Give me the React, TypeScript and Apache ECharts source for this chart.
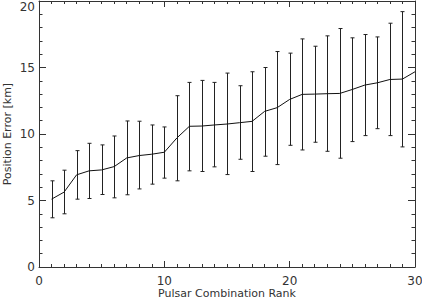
import React, { useEffect, useRef } from "react";
import * as echarts from "echarts";

const ranks = [1, 2, 3, 4, 5, 6, 7, 8, 9, 10, 11, 12, 13, 14, 15, 16, 17, 18, 19, 20, 21, 22, 23, 24, 25, 26, 27, 28, 29, 30];
const meanErr = [5.1, 5.63, 6.93, 7.23, 7.3, 7.55, 8.2, 8.38, 8.48, 8.63, 9.7, 10.58, 10.6, 10.68, 10.75, 10.85, 10.95, 11.7, 11.98, 12.6, 12.98, 13.0, 13.03, 13.05, 13.35, 13.68, 13.85, 14.1, 14.13, 14.68];
const upperErr = [6.48, 7.28, 8.75, 9.3, 9.18, 9.85, 10.98, 10.96, 10.68, 10.53, 12.88, 13.88, 14.03, 13.88, 14.58, 13.63, 14.68, 15.0, 16.2, 16.08, 17.15, 16.6, 17.38, 17.93, 17.23, 17.48, 17.3, 18.33, 19.2, null];
const lowerErr = [3.7, 4.0, 5.1, 5.15, 5.45, 5.2, 5.43, 5.87, 6.23, 6.68, 6.48, 7.23, 7.18, 7.53, 6.95, 8.1, 7.18, 8.33, 7.7, 9.15, 8.8, 9.38, 8.7, 8.18, 9.43, 9.88, 10.4, 9.88, 9.03, null];

const xTicks = [0, 10, 20, 30];
const yTicks = [0, 5, 10, 15, 20];

const FONT = "DejaVu Sans";
const AX = "#333";

export default function App() {
  const ref = useRef<HTMLDivElement>(null);
  useEffect(() => {
    document.body.style.margin = "0";
    const chart = echarts.init(ref.current!, null, { renderer: "svg" });
    const lineData = ranks.map((r, i) => [r, meanErr[i]]);
    const errData = ranks
      .map((r, i) => [r, lowerErr[i], upperErr[i]])
      .filter((d) => d[1] != null && d[2] != null);
    const yMax = yTicks[yTicks.length - 1];

    const baseAxis = {
      axisLine: { show: true, onZero: false, lineStyle: { color: AX, width: 1 } },
      splitLine: { show: false },
    };

    chart.setOption({
      animation: false,
      grid: { left: 39, right: 7, top: 1, bottom: 33, containLabel: false, outerBoundsMode: "none" },
      xAxis: [
        {
          ...baseAxis,
          type: "value",
          min: xTicks[0],
          max: xTicks[xTicks.length - 1],
          interval: 10,
          position: "bottom",
          name: "Pulsar Combination Rank",
          nameLocation: "middle",
          nameGap: 21,
          nameMoveOverlap: false,
          nameTextStyle: { fontFamily: FONT, fontSize: 11, lineHeight: 11, color: AX },
          axisTick: { show: true, inside: true, length: 6, lineStyle: { color: AX } },
          minorTick: { show: true, splitNumber: 10, length: 3, lineStyle: { color: AX } },
          axisLabel: { fontFamily: FONT, fontSize: 12, lineHeight: 12, color: AX, margin: 8 },
        },
        {
          ...baseAxis,
          type: "value",
          min: xTicks[0],
          max: xTicks[xTicks.length - 1],
          interval: 10,
          position: "top",
          axisTick: { show: true, inside: true, length: 6, lineStyle: { color: AX } },
          minorTick: { show: true, splitNumber: 10, length: 3, lineStyle: { color: AX } },
          axisLabel: { show: false },
        },
      ],
      yAxis: [
        {
          ...baseAxis,
          type: "value",
          min: yTicks[0],
          max: yMax,
          interval: 5,
          position: "left",
          name: "Position Error [km]",
          nameLocation: "middle",
          nameGap: 26,
          nameMoveOverlap: false,
          nameTextStyle: { fontFamily: FONT, fontSize: 11, color: AX },
          axisTick: { show: true, inside: true, length: 7, lineStyle: { color: AX } },
          minorTick: { show: true, splitNumber: 5, length: 3.5, lineStyle: { color: AX } },
          axisLabel: {
            fontFamily: FONT,
            fontSize: 12,
            color: AX,
            margin: 4,
            formatter: (v: number) => (v === yMax ? "{t|" + v + "}" : String(v)),
            rich: { t: { fontFamily: FONT, fontSize: 12, color: AX, padding: [11, 0, 0, 0] } },
          },
        },
        {
          ...baseAxis,
          type: "value",
          min: yTicks[0],
          max: yMax,
          interval: 5,
          position: "right",
          axisTick: { show: true, inside: true, length: 7, lineStyle: { color: AX } },
          minorTick: { show: true, splitNumber: 5, length: 3.5, lineStyle: { color: AX } },
          axisLabel: { show: false },
        },
      ],
      series: [
        {
          type: "custom",
          xAxisIndex: 0,
          yAxisIndex: 0,
          data: errData,
          renderItem: (params: any, api: any) => {
            const x = api.value(0);
            const lo = api.coord([x, api.value(1)]);
            const hi = api.coord([x, api.value(2)]);
            const cx = Math.round(lo[0]) + 0.5;
            const w = 2;
            const st = { stroke: "#222", lineWidth: 1 };
            return {
              type: "group",
              children: [
                { type: "line", shape: { x1: cx, y1: hi[1], x2: cx, y2: lo[1] }, style: st },
                { type: "line", shape: { x1: cx - w, y1: hi[1], x2: cx + w, y2: hi[1] }, style: st },
                { type: "line", shape: { x1: cx - w, y1: lo[1], x2: cx + w, y2: lo[1] }, style: st },
              ],
            };
          },
          z: 3,
        },
        {
          type: "line",
          data: lineData,
          showSymbol: false,
          symbol: "none",
          lineStyle: { color: "#111", width: 1 },
          z: 4,
        },
      ],
    });
    return () => chart.dispose();
  }, []);
  return <div ref={ref} style={{ width: 422, height: 300 }} />;
}
